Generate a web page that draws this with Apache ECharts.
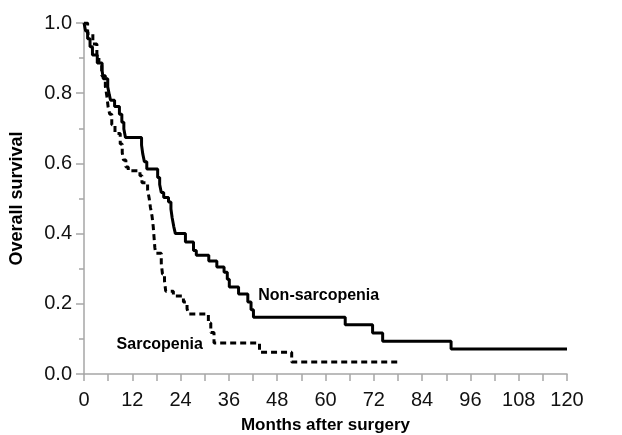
<!DOCTYPE html>
<html>
<head>
<meta charset="utf-8">
<script src="https://cdn.jsdelivr.net/npm/echarts@6/dist/echarts.min.js"></script>
<style>
  html, body { margin: 0; padding: 0; background: #fff; }
  #chart { width: 622px; height: 435px; }
</style>
</head>
<body>
<div id="chart"></div>
<script>
// Non-sarcopenia (solid) survival steps
const nonSarcMonths = [0, 0.4, 0.9, 1.5, 2.1, 3.3, 4.5, 4.8, 5.9, 6.3, 6.6, 7.6, 8.8, 9.4, 9.9, 10.3,
  14.3, 14.6, 15.0, 15.6, 18.3, 18.8, 19.2, 19.8, 21.0, 21.6, 21.9, 22.3, 22.7, 25.2, 27.2, 27.9,
  31.0, 33.0, 34.8, 35.6, 36.1, 38.4, 40.7, 41.5, 42.1, 64.9, 71.7, 74.2, 91.2, 120];
const nonSarcSurvival = [1.0, 0.977, 0.955, 0.932, 0.909, 0.886, 0.864, 0.841, 0.818, 0.795, 0.78, 0.762, 0.74, 0.717, 0.698, 0.674,
  0.652, 0.627, 0.605, 0.584, 0.56, 0.54, 0.517, 0.503, 0.49, 0.47, 0.445, 0.42, 0.40, 0.376, 0.352, 0.338,
  0.322, 0.305, 0.29, 0.27, 0.248, 0.228, 0.205, 0.183, 0.162, 0.14, 0.117, 0.093, 0.071, 0.071];

// Sarcopenia (dashed) survival steps
const sarcMonths = [0, 0.9, 2.2, 3.2, 3.7, 4.4, 5.3, 5.7, 6.0, 6.4, 6.9, 7.7, 9.0, 9.5, 9.8, 10.4, 11.0,
  13.9, 14.4, 15.8, 16.2, 16.5, 16.9, 17.2, 17.4, 17.6, 17.8, 19.2, 19.5, 20.0, 20.3, 22.2, 24.7, 25.6, 26.0,
  30.9, 31.5, 32.3, 43.6, 51.6, 78.6];
const sarcSurvival = [1.0, 0.97, 0.94, 0.91, 0.88, 0.85, 0.82, 0.79, 0.76, 0.74, 0.71, 0.685, 0.655, 0.63, 0.61, 0.59, 0.579,
  0.565, 0.545, 0.525, 0.50, 0.475, 0.45, 0.42, 0.39, 0.36, 0.344, 0.315, 0.285, 0.265, 0.236, 0.222, 0.205, 0.186, 0.171,
  0.145, 0.118, 0.088, 0.062, 0.034, 0.034];

// curve labels
const labelNames = ['Non-sarcopenia', 'Sarcopenia'];
const labelMonths = [43.3, 8.1];
const labelSurvival = [0.222, 0.083];

const font = 'Liberation Sans, Arial, sans-serif';
const axisGray = '#a6a6a6';

const zip = (xs, ys) => xs.map((x, i) => [x, ys[i]]);

const chart = echarts.init(document.getElementById('chart'), null, { renderer: 'canvas' });

const curveLabel = (i) => ({
  coord: [labelMonths[i], labelSurvival[i]],
  symbol: 'circle',
  symbolSize: 0,
  label: {
    show: true,
    formatter: labelNames[i],
    position: 'right',
    distance: 0,
    color: '#000',
    fontFamily: font,
    fontWeight: 'bold',
    fontSize: 16,
  },
});

chart.setOption({
  animation: false,
  backgroundColor: '#fff',
  grid: { left: 84, right: 55, top: 23, bottom: 61, outerBoundsMode: 'none' },
  xAxis: {
    type: 'value',
    min: 0,
    max: 120,
    interval: 12,
    name: 'Months after surgery',
    nameLocation: 'middle',
    nameGap: 43,
    nameTextStyle: { color: '#000', fontFamily: font, fontWeight: 'bold', fontSize: 17 },
    axisLine: { lineStyle: { color: axisGray, width: 1.5 } },
    axisTick: { length: 7, lineStyle: { color: axisGray, width: 1.5 } },
    minorTick: { show: true, splitNumber: 2, length: 7, lineStyle: { color: axisGray, width: 1.5 } },
    axisLabel: { color: '#111', fontFamily: font, fontSize: 20, margin: 16 },
    splitLine: { show: false },
  },
  yAxis: {
    type: 'value',
    min: 0,
    max: 1,
    interval: 0.2,
    name: 'Overall survival',
    nameLocation: 'middle',
    nameGap: 58,
    nameTextStyle: { color: '#000', fontFamily: font, fontWeight: 'bold', fontSize: 18 },
    axisLine: { show: true, lineStyle: { color: axisGray, width: 1.5 } },
    axisTick: { show: true, length: 8, lineStyle: { color: axisGray, width: 1.5 } },
    minorTick: { show: true, splitNumber: 2, length: 5, lineStyle: { color: axisGray, width: 1.5 } },
    axisLabel: { color: '#111', fontFamily: font, fontSize: 20, margin: 12, formatter: (v) => v.toFixed(1) },
    splitLine: { show: false },
  },
  series: [
    {
      name: 'Non-sarcopenia',
      type: 'line',
      step: 'end',
      symbol: 'none',
      data: zip(nonSarcMonths, nonSarcSurvival),
      lineStyle: { color: '#000', width: 3 },
      markPoint: { silent: true, data: [curveLabel(0)] },
    },
    {
      name: 'Sarcopenia',
      type: 'line',
      step: 'end',
      symbol: 'none',
      data: zip(sarcMonths, sarcSurvival),
      lineStyle: { color: '#000', width: 3, type: [6, 4] },
      markPoint: { silent: true, data: [curveLabel(1)] },
    },
  ],
});
</script>
</body>
</html>
